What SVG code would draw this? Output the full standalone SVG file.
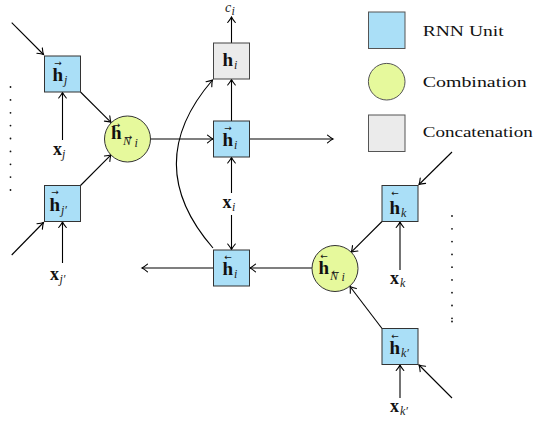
<svg xmlns="http://www.w3.org/2000/svg" width="538" height="423" viewBox="0 0 538 423">
<style>
.bg{fill:#fff}
.rnn{fill:#aadff7;stroke:#333;stroke-width:1}
.cmb{fill:#e6f99c;stroke:#333;stroke-width:1}
.cat{fill:#ebebeb;stroke:#444;stroke-width:1}
.lg{stroke:#555}
.c{fill:none;stroke:#000;stroke-width:1.1;marker-end:url(#ah)}
.b{font-family:"Liberation Serif","DejaVu Serif",serif;font-weight:bold;font-size:19px;fill:#111}
.bx{font-family:"Liberation Serif","DejaVu Serif",serif;font-weight:bold;font-size:18px;fill:#111}
.s{font-family:"Liberation Serif","DejaVu Serif",serif;font-style:italic;font-size:12px;fill:#222}
.m{font-family:"Liberation Serif","DejaVu Serif",serif;font-style:italic;font-size:14px;fill:#222}
.v{font-family:"DejaVu Sans",sans-serif;font-size:9px;fill:#111;text-anchor:middle}
.t{font-family:"Liberation Serif","DejaVu Serif",serif;font-size:15px;fill:#111}
.d{fill:#111}
</style>
<defs>
<marker id="ah" markerUnits="userSpaceOnUse" markerWidth="12" markerHeight="12" viewBox="-7 -6 8 12" refX="0" refY="0" orient="auto" overflow="visible">
<path d="M-5.5,-3.8 Q-2,-0.9 0,0 Q-2,0.9 -5.5,3.8" fill="none" stroke="#000" stroke-width="1.1" stroke-linecap="round"/>
</marker>
</defs>
<rect class="bg" x="0" y="0" width="538" height="423"/>

<g id="connectors">
<line class="c" x1="11.7" y1="22.7" x2="43.5" y2="54.5"/>
<line class="c" x1="62.5" y1="140" x2="62.5" y2="92.5"/>
<line class="c" x1="80.5" y1="92" x2="111" y2="122.3"/>
<line class="c" x1="80.5" y1="185.5" x2="111" y2="154.8"/>
<line class="c" x1="11.7" y1="255" x2="43.5" y2="222.5"/>
<line class="c" x1="62.5" y1="263" x2="62.5" y2="222"/>
<line class="c" x1="150.5" y1="139" x2="213" y2="139"/>
<line class="c" x1="249.5" y1="139" x2="333" y2="139"/>
<line class="c" x1="231.5" y1="121" x2="231.5" y2="79.5"/>
<line class="c" x1="231.5" y1="43" x2="231.5" y2="17"/>
<line class="c" x1="231.5" y1="193" x2="231.5" y2="157.5"/>
<line class="c" x1="231.5" y1="215" x2="231.5" y2="249.5"/>
<path class="c" d="M213,248 Q140,164 212.5,80"/>
<line class="c" x1="213.5" y1="268" x2="142" y2="268"/>
<line class="c" x1="312" y1="268" x2="250" y2="268"/>
<line class="c" x1="452" y1="152" x2="419" y2="184.5"/>
<line class="c" x1="382" y1="221.5" x2="351.3" y2="252.2"/>
<line class="c" x1="400" y1="270" x2="400" y2="222"/>
<line class="c" x1="382" y1="328.5" x2="350" y2="286.5"/>
<line class="c" x1="400" y1="398" x2="400" y2="365"/>
<line class="c" x1="452" y1="398" x2="419" y2="365"/>
</g>

<g id="dots-left">
<circle class="d" cx="10.5" cy="87" r="0.9"/>
<circle class="d" cx="10.5" cy="99.9" r="0.9"/>
<circle class="d" cx="10.5" cy="112.8" r="0.9"/>
<circle class="d" cx="10.5" cy="125.6" r="0.9"/>
<circle class="d" cx="10.5" cy="138.5" r="0.9"/>
<circle class="d" cx="10.5" cy="151.4" r="0.9"/>
<circle class="d" cx="10.5" cy="164.3" r="0.9"/>
<circle class="d" cx="10.5" cy="177.1" r="0.9"/>
<circle class="d" cx="10.5" cy="190" r="0.9"/>
</g>
<g id="dots-right">
<circle class="d" cx="452" cy="216" r="0.9"/>
<circle class="d" cx="452" cy="228.8" r="0.9"/>
<circle class="d" cx="452" cy="241.6" r="0.9"/>
<circle class="d" cx="452" cy="254.4" r="0.9"/>
<circle class="d" cx="452" cy="267.2" r="0.9"/>
<circle class="d" cx="452" cy="279.9" r="0.9"/>
<circle class="d" cx="452" cy="292.7" r="0.9"/>
<circle class="d" cx="452" cy="305.5" r="0.9"/>
<circle class="d" cx="452" cy="318.3" r="0.9"/>
<circle class="d" cx="452" cy="321.5" r="0.9"/>
</g>

<g id="h-j">
<rect class="rnn" x="44.5" y="56" width="36" height="36"/>
<text><tspan class="v" x="58" y="65.5">→</tspan><tspan class="b" x="52.5" y="81">h</tspan><tspan class="s" x="64" y="84">j</tspan></text>
</g>
<g id="x-j"><text x="53" y="155"><tspan class="bx">x</tspan><tspan class="s" x="62" y="158">j</tspan></text></g>

<g id="h-jp">
<rect class="rnn" x="44.5" y="185.5" width="36" height="36"/>
<text><tspan class="v" x="55" y="195">→</tspan><tspan class="b" x="49.5" y="210.5">h</tspan><tspan class="s" x="61" y="213.5">j′</tspan></text>
</g>
<g id="x-jp"><text x="50" y="280"><tspan class="bx">x</tspan><tspan class="s" x="59.5" y="283">j′</tspan></text></g>

<g id="comb-fwd">
<circle class="cmb" cx="127.5" cy="139" r="23"/>
<text><tspan class="v" x="116.5" y="128">→</tspan><tspan class="b" x="111" y="139">h</tspan><tspan class="v" x="128.5" y="140">→</tspan><tspan class="s" x="123" y="145">N</tspan><tspan class="s" font-size="9" x="134.5" y="146.5">i</tspan></text>
</g>

<g id="h-i-concat">
<rect class="cat" x="213.5" y="43" width="36" height="36"/>
<text x="222.5" y="66"><tspan class="b">h</tspan><tspan class="s" x="234" y="69">i</tspan></text>
</g>
<g id="c-i"><text x="225" y="12"><tspan class="m">c</tspan><tspan class="s" font-size="10" x="231.5" y="14.5">i</tspan></text></g>

<g id="h-i-fwd">
<rect class="rnn" x="213.5" y="121" width="36" height="36"/>
<text><tspan class="v" x="228" y="130.5">→</tspan><tspan class="b" x="222.5" y="146">h</tspan><tspan class="s" x="234" y="149">i</tspan></text>
</g>
<g id="x-i"><text x="222.5" y="208"><tspan class="bx">x</tspan><tspan class="s" x="232" y="211">i</tspan></text></g>

<g id="h-i-bwd">
<rect class="rnn" x="213.5" y="250" width="36" height="36"/>
<text><tspan class="v" x="228" y="259.5">←</tspan><tspan class="b" x="222.5" y="275">h</tspan><tspan class="s" x="234" y="278">i</tspan></text>
</g>

<g id="comb-bwd">
<circle class="cmb" cx="335" cy="268.5" r="23"/>
<text><tspan class="v" x="324" y="258.5">←</tspan><tspan class="b" x="318.5" y="273.5">h</tspan><tspan class="v" x="335.5" y="274.5">←</tspan><tspan class="s" x="330" y="279.5">N</tspan><tspan class="s" font-size="9" x="341.5" y="281">i</tspan></text>
</g>

<g id="h-k">
<rect class="rnn" x="382" y="185.5" width="36" height="36"/>
<text><tspan class="v" x="395" y="196">←</tspan><tspan class="b" x="389.5" y="213.5">h</tspan><tspan class="s" x="401" y="216.5">k</tspan></text>
</g>
<g id="x-k"><text x="390" y="283.5"><tspan class="bx">x</tspan><tspan class="s" x="400" y="286.5">k</tspan></text></g>

<g id="h-kp">
<rect class="rnn" x="382" y="328.5" width="36" height="36"/>
<text><tspan class="v" x="395" y="339">←</tspan><tspan class="b" x="389.5" y="353.5">h</tspan><tspan class="s" x="401" y="356.5">k′</tspan></text>
</g>
<g id="x-kp"><text x="390" y="411.5"><tspan class="bx">x</tspan><tspan class="s" x="400" y="414.5">k′</tspan></text></g>

<g id="legend">
<rect class="rnn lg" x="368.5" y="12" width="36.5" height="36.5"/>
<text class="t" x="422.7" y="36" textLength="81" lengthAdjust="spacingAndGlyphs">RNN Unit</text>
<circle class="cmb lg" cx="386.7" cy="81.7" r="18.3"/>
<text class="t" x="422.7" y="87" textLength="104" lengthAdjust="spacingAndGlyphs">Combination</text>
<rect class="cat lg" x="368.5" y="115" width="36.5" height="36.5"/>
<text class="t" x="422.7" y="137" textLength="110" lengthAdjust="spacingAndGlyphs">Concatenation</text>
</g>
</svg>
